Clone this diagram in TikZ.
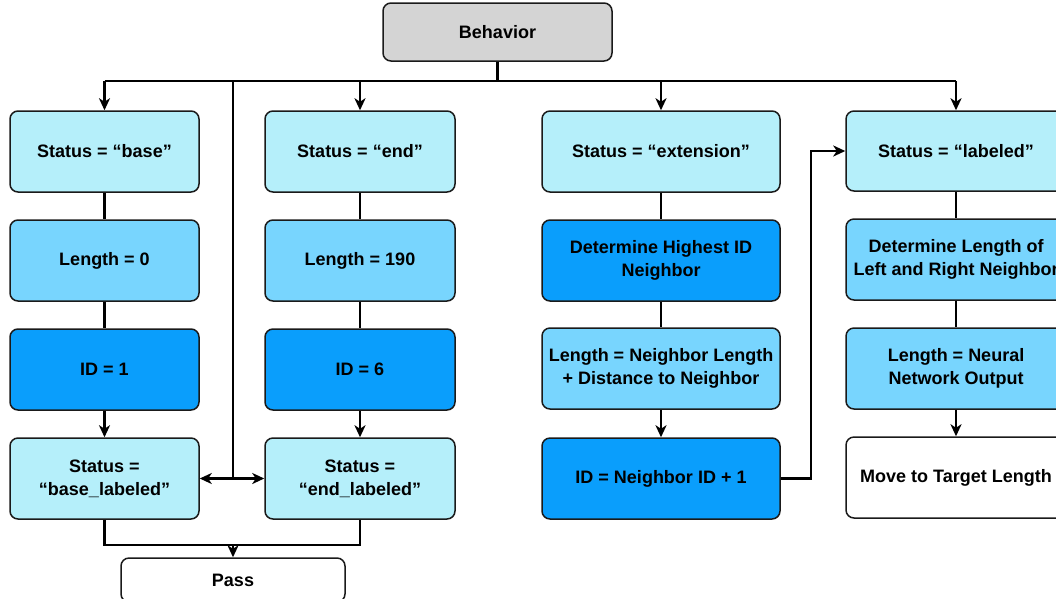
\documentclass[tikz,border=0pt]{standalone}
\usepackage{fontspec}
\setmainfont{Liberation Sans}
\usetikzlibrary{arrows.meta}
\definecolor{cA}{HTML}{B5EFFA}
\definecolor{cB}{HTML}{78D5FE}
\definecolor{cC}{HTML}{0A9EFC}
\definecolor{cG}{HTML}{D4D4D4}
\definecolor{bd}{HTML}{1A1A1A}
\tikzset{
  box/.style={draw=bd, line width=1.5pt, rounded corners=8pt, align=center,
    inner sep=0pt, font=\fontsize{18}{22.8}\selectfont\bfseries, text=black},
  lite/.style={box, fill=cA},
  mid/.style={box, fill=cB},
  dark/.style={box, fill=cC},
  plain/.style={box, fill=white},
  conn/.style={line width=2.8pt, draw=black},
  arr/.style={conn, -{Stealth[length=12pt,width=11pt,inset=3.5pt]}},
}
\begin{document}
\begin{tikzpicture}[x=1pt,y=-1pt]
\useasboundingbox (0,0) rectangle (1056,598);
\clip (0,0) rectangle (1056,598);
\def\hh{81}
% Behavior
\node[box, fill=cG, minimum width=229pt, minimum height=58pt] (beh) at (497.5,32) {Behavior};
% column 1
\node[lite, minimum width=189pt, minimum height=\hh pt] (a1) at (104.5,151.5) {Status = “base”};
\node[mid,  minimum width=189pt, minimum height=\hh pt] (a2) at (104.5,260.5) {Length = 0};
\node[dark, minimum width=189pt, minimum height=\hh pt] (a3) at (104.5,369.5) {ID = 1};
\node[lite, minimum width=189pt, minimum height=\hh pt] (a4) at (104.5,478.5) {Status =\\“base\_labeled”};
% column 2
\node[lite, minimum width=190pt, minimum height=\hh pt] (b1) at (360,151.5) {Status = “end”};
\node[mid,  minimum width=190pt, minimum height=\hh pt] (b2) at (360,260.5) {Length = 190};
\node[dark, minimum width=190pt, minimum height=\hh pt] (b3) at (360,369.5) {ID = 6};
\node[lite, minimum width=190pt, minimum height=\hh pt] (b4) at (360,478.5) {Status =\\“end\_labeled”};
% column 3
\node[lite, minimum width=238pt, minimum height=\hh pt] (c1) at (661,151.5) {Status = “extension”};
\node[dark, minimum width=238pt, minimum height=\hh pt] (c2) at (661,260.5) {Determine Highest ID\\Neighbor};
\node[mid,  minimum width=238pt, minimum height=\hh pt] (c3) at (661,368.5) {Length = Neighbor Length\\+ Distance to Neighbor};
\node[dark, minimum width=238pt, minimum height=\hh pt] (c4) at (661,478.5) {ID = Neighbor ID + 1};
% column 4
\node[lite, minimum width=220pt, minimum height=80pt] (d1) at (956,151) {Status = “labeled”};
\node[mid,  minimum width=220pt, minimum height=\hh pt] (d2) at (956,259.5) {Determine Length of\\Left and Right Neighbor};
\node[mid,  minimum width=220pt, minimum height=\hh pt] (d3) at (956,368.5) {Length = Neural\\Network Output};
\node[plain,minimum width=220pt, minimum height=\hh pt] (d4) at (956,477.5) {Move to Target Length};
% Pass
\node[plain, minimum width=224pt, minimum height=44pt] (pass) at (233,580) {Pass};
% bus
\coordinate (bus) at (497.5,81);
\coordinate (busL) at (104.5,81);
\coordinate (busR) at (956,81);
\coordinate (vtop) at (233,81);
\coordinate (jn) at (233,478.5);
\coordinate (bot) at (233,545);
\coordinate (turn) at (811,478.5);
\draw[conn] (beh.south) -- (bus);
\draw[conn] (busL) -- (busR);
\draw[arr] (busL) -- (a1.north);
\draw[arr] (b1.north |- bus) -- (b1.north);
\draw[arr] (c1.north |- bus) -- (c1.north);
\draw[arr] (busR) -- (d1.north);
% verticals
\draw[conn] (a1) -- (a2); \draw[conn] (a2) -- (a3); \draw[arr] (a3) -- (a4);
\draw[conn] (b1) -- (b2); \draw[conn] (b2) -- (b3); \draw[arr] (b3) -- (b4);
\draw[conn] (c1) -- (c2); \draw[conn] (c2) -- (c3); \draw[arr] (c3) -- (c4);
\draw[conn] (d1) -- (d2); \draw[conn] (d2) -- (d3); \draw[arr] (d3) -- (d4);
% middle trunk
\draw[conn] (vtop) -- (jn);
\draw[arr] (jn) -- (a4.east);
\draw[arr] (jn) -- (b4.west);
% bottom merge
\draw[conn] (a4.south) |- (bot) -| (b4.south);
\draw[arr] (bot) -- (pass.north);
% loop to labeled
\draw[arr] (c4.east) -- (turn) |- (d1.west);
\end{tikzpicture}
\end{document}
